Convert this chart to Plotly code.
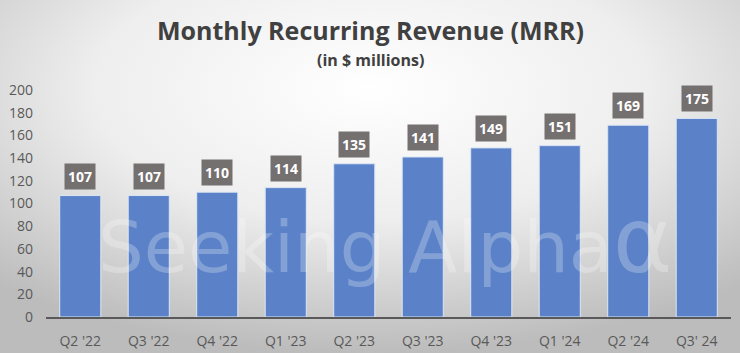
import plotly.graph_objects as go

quarters = ["Q2 '22", "Q3 '22", "Q4 '22", "Q1 '23", "Q2 '23", "Q3 '23", "Q4 '23", "Q1 '24", "Q2 '24", "Q3' 24"]
mrr = [107, 107, 110, 114, 135, 141, 149, 151, 169, 175]
y_ticks = [0, 20, 40, 60, 80, 100, 120, 140, 160, 180, 200]

bg_svg = ("data:image/svg+xml;utf8,"
          "<svg xmlns='http://www.w3.org/2000/svg' width='740' height='353'>"
          "<defs><radialGradient id='g' cx='50%' cy='25%' r='75%'>"
          "<stop offset='0%' stop-color='%23ffffff'/>"
          "<stop offset='50%' stop-color='%23eeeeee'/>"
          "<stop offset='100%' stop-color='%23bcbcbc'/>"
          "</radialGradient></defs>"
          "<rect width='740' height='353' fill='url(%23g)'/></svg>")

PLOT_W = 740 - 46 - 9
PLOT_H = 353 - 90 - 36
def py2paper(py):
    return (317 - py) / PLOT_H
def px2paper(px):
    return (px - 46) / PLOT_W

fig = go.Figure()
fig.add_trace(go.Bar(
    x=quarters, y=mrr,
    marker=dict(color="#5B82C8", line=dict(color="#DCE6F5", width=1)),
    width=0.6,
    hoverinfo="skip",
))

annotations = []
for q, v in zip(quarters, mrr):
    annotations.append(dict(
        x=q, y=v, xref="x", yref="y", text="<b>%d</b>" % v,
        showarrow=False, yanchor="bottom", yshift=6,
        font=dict(family="Open Sans", size=14, color="white"),
        bgcolor="#757070", borderpad=3,
    ))

annotations.append(dict(
    x=px2paper(385), y=py2paper(240), xref="paper", yref="paper",
    text="Seeking Alpha<span style='font-size:90px'>α</span>", showarrow=False,
    font=dict(family="DejaVu Sans", size=72, color="rgba(255,255,255,0.25)"),
    xanchor="center", yanchor="middle",
))

annotations.append(dict(
    x=px2paper(370), y=py2paper(30), xref="paper", yref="paper", yanchor="middle", xanchor="center",
    text="<b>Monthly Recurring Revenue (MRR)</b>", showarrow=False,
    font=dict(family="Open Sans", size=25, color="#404040"),
))
annotations.append(dict(
    x=px2paper(370), y=py2paper(60), xref="paper", yref="paper", yanchor="middle", xanchor="center",
    text="<b>(in $ millions)</b>", showarrow=False,
    font=dict(family="Open Sans", size=16, color="#404040"),
))

fig.update_layout(
    width=740, height=353,
    margin=dict(l=46, r=9, t=90, b=36),
    paper_bgcolor="#e8e8e8",
    plot_bgcolor="rgba(0,0,0,0)",
    showlegend=False,
    bargap=0.4,
    annotations=annotations,
    images=[dict(source=bg_svg, xref="paper", yref="paper", x=-46/PLOT_W, y=1 + 90/PLOT_H,
                 sizex=740/PLOT_W, sizey=353/PLOT_H, xanchor="left", yanchor="top",
                 sizing="stretch", layer="below")],
    xaxis=dict(
        showgrid=False, showline=True, linecolor="#595959", linewidth=2,
        tickfont=dict(family="Open Sans", size=14, color="#595959"),
        ticks="", ticklabelstandoff=10, automargin=False,
    ),
    yaxis=dict(
        range=[0, 200], tickvals=y_ticks, showgrid=False, zeroline=False,
        showline=False, tickfont=dict(family="Open Sans", size=14, color="#595959"),
        ticklabelstandoff=12, automargin=False,
    ),
)

fig.write_html("out.html")
